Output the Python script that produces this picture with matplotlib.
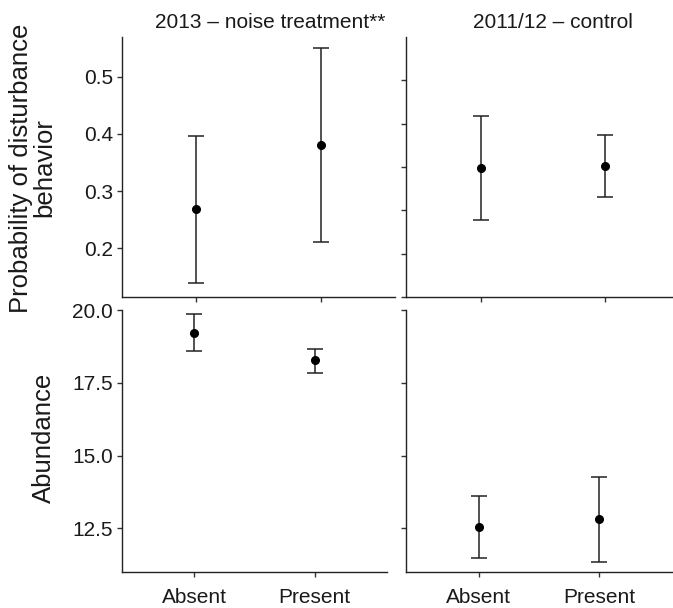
import numpy as np
import matplotlib
matplotlib.use("Agg")
import matplotlib.pyplot as plt

plt.rcParams["font.family"] = ["Liberation Sans", "DejaVu Sans"]

groups = ["Absent", "Present"]

# probability of disturbance behavior
prob_noise_mean = [0.268, 0.381]
prob_noise_lo = [0.140, 0.211]
prob_noise_hi = [0.396, 0.549]

prob_ctrl_mean = [0.298, 0.303]
prob_ctrl_lo = [0.178, 0.231]
prob_ctrl_hi = [0.417, 0.374]

# abundance
abund_noise_mean = [19.22, 18.28]
abund_noise_lo = [18.58, 17.85]
abund_noise_hi = [19.86, 18.67]

abund_ctrl_mean = [12.54, 12.82]
abund_ctrl_lo = [11.49, 11.36]
abund_ctrl_hi = [13.62, 14.26]

titles = ["2013 \u2013 noise treatment**", "2011/12 \u2013 control"]

W, H = 673, 608
fig = plt.figure(figsize=(W / 100, H / 100), dpi=100)


def box(l, t, r, b):
    # pixel box -> figure fraction
    return [l / W, 1 - b / H, (r - l) / W, (b - t) / H]


ax_tl = fig.add_axes(box(122, 37, 395, 297))
ax_tr = fig.add_axes(box(406, 37, 680, 297))
ax_bl = fig.add_axes(box(122, 310, 387, 572))
ax_br = fig.add_axes(box(406, 310, 672, 572))

x = np.arange(1, len(groups) + 1)


def draw(ax, mean, lo, hi):
    mean = np.array(mean)
    yerr = [mean - np.array(lo), np.array(hi) - mean]
    ax.errorbar(x, mean, yerr=yerr, fmt="o", color="black", ecolor="#222222",
                ms=5.5, capsize=5.5, elinewidth=1.1, capthick=1.1)
    ax.set_xlim(0.4, 2.6)
    ax.set_xticks(x)
    for s in ["top", "right"]:
        ax.spines[s].set_visible(False)
    for s in ["left", "bottom"]:
        ax.spines[s].set_linewidth(1.0)
        ax.spines[s].set_color("#222222")
    ax.tick_params(axis="both", length=3.5, width=1.0, color="#333333",
                   labelsize=15, labelcolor="#1a1a1a", pad=3)
    ax.tick_params(axis="x", pad=8)


draw(ax_tl, prob_noise_mean, prob_noise_lo, prob_noise_hi)
draw(ax_tr, prob_ctrl_mean, prob_ctrl_lo, prob_ctrl_hi)
draw(ax_bl, abund_noise_mean, abund_noise_lo, abund_noise_hi)
draw(ax_br, abund_ctrl_mean, abund_ctrl_lo, abund_ctrl_hi)

ax_tl.set_ylim(0.115, 0.569)
ax_tl.set_yticks([0.2, 0.3, 0.4, 0.5])
ax_tl.set_yticklabels(["0.2", "0.3", "0.4", "0.5"])
ax_tl.set_xticklabels([])

ax_tr.set_ylim(0.0, 0.6)
ax_tr.set_yticks([0.0, 0.1, 0.2, 0.3, 0.4, 0.5])
ax_tr.set_yticklabels([])
ax_tr.set_xticklabels([])

for ax in [ax_bl, ax_br]:
    ax.set_ylim(11.0, 20.0)
    ax.set_yticks([12.5, 15.0, 17.5, 20.0])
    ax.set_xticklabels(groups)
ax_bl.set_yticklabels(["12.5", "15.0", "17.5", "20.0"])
ax_br.set_yticklabels([])

fig.text(270 / W, 1 - 23 / H, titles[0], ha="center", va="center",
         fontsize=15, color="#1a1a1a")
fig.text(553 / W, 1 - 23 / H, titles[1], ha="center", va="center",
         fontsize=15, color="#1a1a1a")

fig.text(33 / W, 1 - 168 / H, "Probability of disturbance\nbehavior",
         rotation=90, ha="center", va="center", multialignment="center",
         fontsize=18.5, linespacing=0.95, color="#1a1a1a")
fig.text(44 / W, 1 - 438 / H, "Abundance", rotation=90, ha="center",
         va="center", fontsize=18.5, color="#1a1a1a")

fig.savefig("out.png", dpi=100)
